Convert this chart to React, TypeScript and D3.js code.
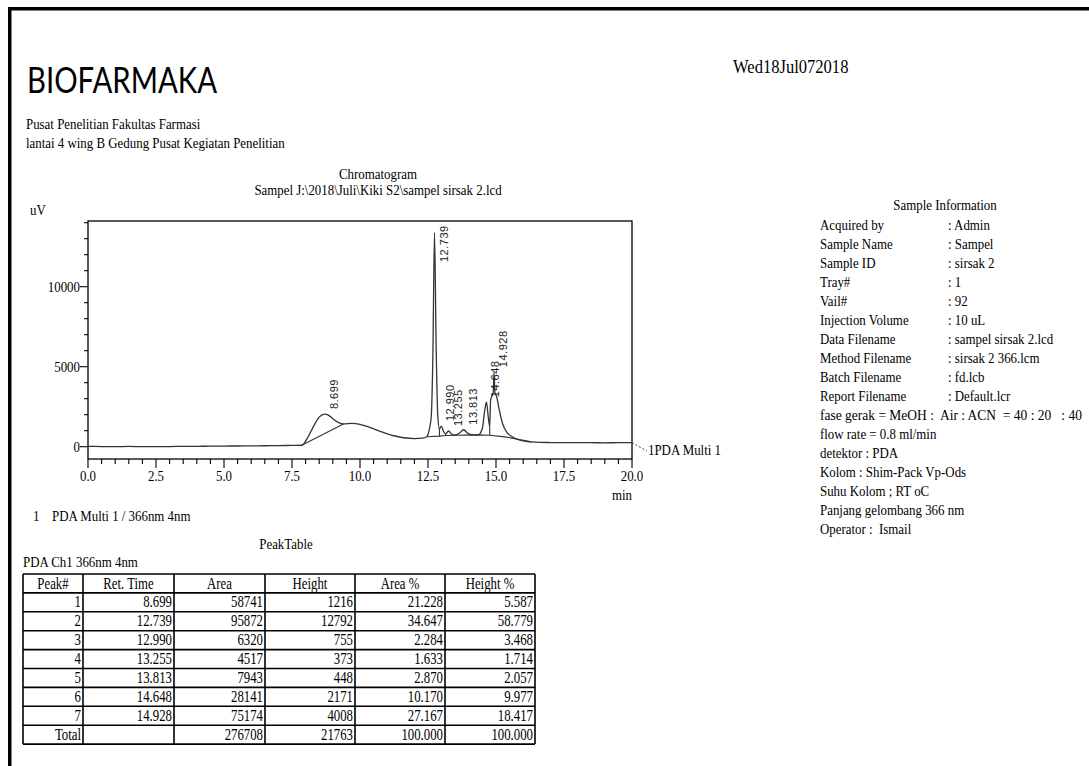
import React from "react";
import * as d3 from "d3";

// ---- chromatogram trace (retention time in min, signal in uV) ----
const retTime = [0, 0.5, 1, 1.5, 2, 2.5, 3, 3.5, 4, 4.5, 5, 5.5, 6, 6.5, 7, 7.5, 7.86, 8.1, 8.3, 8.5, 8.699, 8.85, 9.0, 9.2, 9.39, 9.7, 10.0, 10.4, 10.8, 11.2, 11.6, 12.0, 12.3, 12.45, 12.55, 12.62, 12.68, 12.739, 12.8, 12.86, 12.92, 12.99, 13.08, 13.15, 13.255, 13.37, 13.5, 13.65, 13.813, 13.95, 14.1, 14.35, 14.5, 14.58, 14.648, 14.72, 14.77, 14.8, 14.86, 14.9, 14.928, 14.96, 15.02, 15.12, 15.25, 15.4, 15.6, 15.8, 16.0, 16.3, 16.6, 17, 17.5, 18, 18.5, 19, 19.5, 20];
const signal = [20, 10, 0, 15, 0, 5, 10, 20, 25, 30, 40, 45, 55, 60, 70, 80, 90, 650, 1300, 1850, 2040, 1960, 1750, 1520, 1420, 1460, 1400, 1180, 920, 700, 560, 510, 530, 620, 1100, 1900, 5800, 13390, 6200, 1900, 1100, 1290, 920, 800, 980, 780, 730, 840, 1060, 850, 760, 740, 1150, 2200, 2780, 1800, 1250, 2900, 3200, 3400, 4660, 3400, 3150, 2300, 1400, 900, 620, 450, 360, 300, 270, 260, 255, 250, 250, 245, 250, 250];

// integration baselines and peak drop lines
const baseline1 = [[7.86, 90], [9.39, 1420]];
const baseline2 = [[12.45, 620], [12.92, 660], [13.15, 700], [13.5, 720], [14.35, 740], [14.77, 720], [15.4, 600], [16.3, 300]];
const dropTimes = [12.92, 13.15, 14.77];

// ---- peak table ----
const peakNo = ["1", "2", "3", "4", "5", "6", "7"];
const peakRT = [8.699, 12.739, 12.99, 13.255, 13.813, 14.648, 14.928];
const peakRTText = ["8.699", "12.739", "12.990", "13.255", "13.813", "14.648", "14.928"];
const peakArea = ["58741", "95872", "6320", "4517", "7943", "28141", "75174"];
const peakHeight = ["1216", "12792", "755", "373", "448", "2171", "4008"];
const peakAreaPct = ["21.228", "34.647", "2.284", "1.633", "2.870", "10.170", "27.167"];
const peakHeightPct = ["5.587", "58.779", "3.468", "1.714", "2.057", "9.977", "18.417"];
const totals = ["Total", "", "276708", "21763", "100.000", "100.000"];
const tableHeaders = ["Peak#", "Ret. Time", "Area", "Height", "Area %", "Height %"];

// ---- axis ticks ----
const xMajorTicks = [0, 2.5, 5, 7.5, 10, 12.5, 15, 17.5, 20];
const xMinorTicks = d3.range(0, 20.001, 0.5);
const yMajorTicks = [0, 5000, 10000];
const yMinorTicks = d3.range(0, 14001, 1000);

// ---- sample information ----
const infoKeys = ["Acquired by", "Sample Name", "Sample ID", "Tray#", "Vail#", "Injection Volume", "Data Filename", "Method Filename", "Batch Filename", "Report Filename"];
const infoValues = [": Admin", ": Sampel", ": sirsak 2", ": 1", ": 92", ": 10 uL", ": sampel sirsak 2.lcd", ": sirsak 2 366.lcm", ": fd.lcb", ": Default.lcr"];
const infoNotes = ["fase gerak = MeOH :  Air : ACN  = 40 : 20   : 40", "flow rate = 0.8 ml/min", "detektor : PDA", "Kolom : Shim-Pack Vp-Ods", "Suhu Kolom ; RT oC", "Panjang gelombang 366 nm", "Operator :  Ismail"];

const SERIF = "'Liberation Serif', 'Times New Roman', serif";
const SANS = "'Liberation Sans', Arial, sans-serif";

type TProps = { x: number; y: number; s?: number; sx?: number; anchor?: string; family?: string; children: React.ReactNode };
const T = ({ x, y, s = 15, sx = 0.86, anchor = "start", family = SERIF, children }: TProps) => (
  <text transform={`translate(${x},${y}) scale(${sx},1)`} fontSize={s} textAnchor={anchor as any} fontFamily={family} fill="#000" style={{ whiteSpace: "pre" }}>
    {children}
  </text>
);

export default function App() {
  const plot = { left: 88, right: 632, top: 221, bottom: 459 };
  const x = d3.scaleLinear().domain([0, 20]).range([plot.left, plot.right]);
  const y = d3.scaleLinear().domain([0, 5000]).range([446.7, 366.7]);

  const pts = retTime.map((t, i) => [t, signal[i]] as [number, number]);
  const line = d3.line<[number, number]>().x((d) => x(d[0])).y((d) => y(d[1])).curve(d3.curveMonotoneX);
  const straight = d3.line<number[]>().x((d) => x(d[0])).y((d) => y(d[1]));

  const sigAt = (t: number) => {
    const i = d3.bisector((d: number) => d).left(retTime, t);
    if (Math.abs(retTime[i] - t) < 1e-6) return signal[i];
    const t0 = retTime[i - 1], t1 = retTime[i];
    return signal[i - 1] + ((signal[i] - signal[i - 1]) * (t - t0)) / (t1 - t0);
  };
  const baseAt = (t: number) => {
    for (let i = 1; i < baseline2.length; i++) {
      const [t0, v0] = baseline2[i - 1];
      const [t1, v1] = baseline2[i];
      if (t >= t0 && t <= t1) return v0 + ((v1 - v0) * (t - t0)) / (t1 - t0);
    }
    return 0;
  };

  // table geometry
  const colX = [23, 83, 174, 265, 355, 445, 535];
  const tTop = 574;
  const rowH = 18.9;
  const rows = peakNo.map((n, i) => [n, peakRTText[i], peakArea[i], peakHeight[i], peakAreaPct[i], peakHeightPct[i]]);
  const nRows = rows.length + 2;

  return (
    <svg width={1089} height={766} style={{ position: "absolute", left: 0, top: 0, display: "block", background: "#fff" }}>
      <rect x={0} y={0} width={1089} height={766} fill="#fff" />
      {/* page frame */}
      <rect x={8} y={7} width={1081} height={3.5} fill="#000" />
      <rect x={8} y={7} width={3.5} height={759} fill="#000" />

      {/* header */}
      <text x={27} y={93} fontFamily="Lato, 'Open Sans', sans-serif" fontSize={36} textLength={190} lengthAdjust="spacingAndGlyphs" fill="#000">BIOFARMAKA</text>
      <T x={733} y={73} s={18} sx={0.92}>Wed18Jul072018</T>
      <T x={26} y={129}>Pusat Penelitian Fakultas Farmasi</T>
      <T x={26} y={148}>lantai 4 wing B Gedung Pusat Kegiatan Penelitian</T>

      {/* chromatogram titles */}
      <T x={378} y={179} anchor="middle">Chromatogram</T>
      <T x={378} y={195} anchor="middle">{"Sampel J:\\2018\\Juli\\Kiki S2\\sampel sirsak 2.lcd"}</T>
      <T x={30} y={215}>uV</T>

      {/* plot frame */}
      <rect x={plot.left} y={plot.top} width={plot.right - plot.left} height={plot.bottom - plot.top} fill="none" stroke="#000" strokeWidth={1.3} />

      {/* y ticks */}
      {yMinorTicks.map((v) => (
        <line key={"ym" + v} x1={plot.left - (yMajorTicks.includes(v) ? 8 : 4)} x2={plot.left} y1={y(v)} y2={y(v)} stroke="#000" strokeWidth={1.1} />
      ))}
      {yMajorTicks.map((v) => (
        <T key={"yl" + v} x={plot.left - 8} y={y(v) + 5} anchor="end">{String(v)}</T>
      ))}

      {/* x ticks */}
      {xMinorTicks.map((t) => (
        <line key={"xm" + t} x1={x(t)} x2={x(t)} y1={plot.bottom} y2={plot.bottom + (t % 2.5 === 0 ? 9 : 5)} stroke="#000" strokeWidth={1.1} />
      ))}
      {xMajorTicks.map((t) => (
        <T key={"xl" + t} x={x(t)} y={481} anchor="middle">{t.toFixed(1)}</T>
      ))}
      <T x={plot.right} y={500} anchor="end">min</T>

      {/* trace */}
      <path d={line(pts) ?? ""} fill="none" stroke="#333" strokeWidth={1.3} />
      <path d={straight(baseline1) ?? ""} fill="none" stroke="#333" strokeWidth={1.1} />
      <path d={straight(baseline2) ?? ""} fill="none" stroke="#333" strokeWidth={1.1} />
      {dropTimes.map((t) => (
        <line key={"dl" + t} x1={x(t)} x2={x(t)} y1={y(baseAt(t))} y2={y(sigAt(t))} stroke="#333" strokeWidth={1.1} />
      ))}

      {/* peak labels */}
      {peakRT.map((t, i) => {
        const label = peakRTText[i];
        const len = label.length * 6;
        let start = y(sigAt(t)) - 5;
        if (start - len < plot.top + 5) start = plot.top + 5 + len;
        return (
          <text key={"pl" + i} transform={`translate(${x(t) + 13},${start}) rotate(-90)`} fontSize={11} fontFamily={SANS} letterSpacing={0.5} fill="#222">
            {label}
          </text>
        );
      })}

      {/* channel tag */}
      <line x1={plot.right} y1={y(250)} x2={647} y2={451} stroke="#444" strokeWidth={1} strokeDasharray="2,2" />
      <T x={648} y={455}>1PDA Multi 1</T>

      {/* sample information */}
      <T x={945} y={210} anchor="middle">Sample Information</T>
      {infoKeys.map((k, i) => (
        <g key={"ik" + i}>
          <T x={820} y={230 + i * 19}>{k}</T>
          <T x={948} y={230 + i * 19}>{infoValues[i]}</T>
        </g>
      ))}
      {infoNotes.map((n, i) => (
        <T key={"in" + i} x={820} y={230 + (infoKeys.length + i) * 19} sx={i === 0 ? 0.9 : 0.86}>{n}</T>
      ))}

      {/* peak table */}
      <T x={33} y={521}>1</T>
      <T x={52} y={521}>PDA Multi 1 / 366nm 4nm</T>
      <T x={286} y={549} anchor="middle">PeakTable</T>
      <T x={23} y={567}>PDA Ch1 366nm 4nm</T>
      <g stroke="#000" strokeWidth={1.6}>
        {d3.range(nRows + 1).map((r) => (
          <line key={"hr" + r} x1={colX[0]} x2={colX[colX.length - 1]} y1={tTop + r * rowH} y2={tTop + r * rowH} />
        ))}
        {colX.map((cx, c) => (
          <line key={"vc" + c} x1={cx} x2={cx} y1={tTop} y2={tTop + nRows * rowH} />
        ))}
      </g>
      {tableHeaders.map((h, c) => (
        <T key={"th" + c} x={(colX[c] + colX[c + 1]) / 2} y={tTop + 14.5} s={16} sx={0.8} anchor="middle">{h}</T>
      ))}
      {rows.map((r, ri) =>
        r.map((v, c) => (
          <T key={"td" + ri + "-" + c} x={colX[c + 1] - 2} y={tTop + (ri + 1) * rowH + 14.5} s={16} sx={0.8} anchor="end">{v}</T>
        ))
      )}
      {totals.map((v, c) => (
        <T key={"tt" + c} x={colX[c + 1] - 2} y={tTop + (nRows - 1) * rowH + 14.5} s={16} sx={0.8} anchor="end">{v}</T>
      ))}
    </svg>
  );
}
